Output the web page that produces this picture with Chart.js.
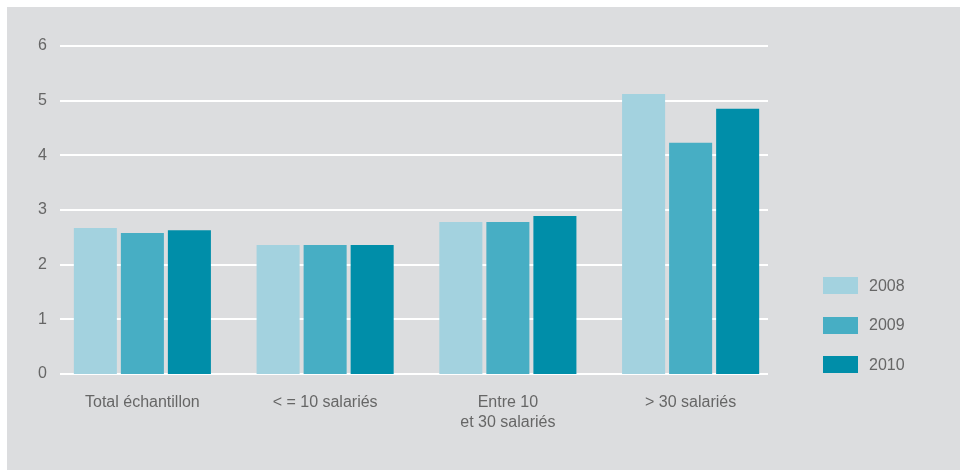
<!DOCTYPE html>
<html lang="fr">
<head>
<meta charset="utf-8">
<script src="https://cdn.jsdelivr.net/npm/chart.js@4/dist/chart.umd.min.js"></script>
<style>
  html, body { margin: 0; padding: 0; background: #ffffff; }
  body { width: 960px; height: 470px; position: relative; overflow: hidden; font-family: "Liberation Sans", Arial, sans-serif; }
  .panel { position: absolute; left: 7px; top: 7px; width: 953px; height: 463px; background: #dcdddf; }
  .panel canvas { position: absolute; left: 0; top: 0; }
  .legende { position: absolute; left: 816px; top: 270px; }
  .legende div { height: 17px; margin-bottom: 22.5px; display: flex; align-items: center; color: #666666; font-size: 16px; }
  .legende span { display: inline-block; width: 35px; height: 17px; margin-right: 11px; }
</style>
</head>
<body>
<div class="panel">
  <canvas id="graphique" width="953" height="463"></canvas>
  <div class="legende" id="legende"></div>
</div>
<script>
// Catégories d'entreprises
const categories = ['Total échantillon', '< = 10 salariés', ['Entre 10', 'et 30 salariés'], '> 30 salariés'];
const annees = ['2008', '2009', '2010'];
const couleurs = ['#a3d2df', '#47aec4', '#008ea9'];

// Valeurs par année
const valeurs2008 = [2.67, 2.36, 2.78, 5.12];
const valeurs2009 = [2.58, 2.36, 2.78, 4.23];
const valeurs2010 = [2.63, 2.36, 2.89, 4.85];

const graduations = [0, 1, 2, 3, 4, 5, 6];

// Lignes horizontales blanches, un peu en retrait du bord de la zone
const lignesBlanches = {
    id: 'lignesBlanches',
    beforeDatasetsDraw(chart) {
        const { ctx, chartArea, scales } = chart;
        ctx.save();
        ctx.strokeStyle = '#ffffff';
        ctx.lineWidth = 2;
        graduations.forEach(v => {
            const y = Math.round(scales.y.getPixelForValue(v));
            ctx.beginPath();
            ctx.moveTo(chartArea.left + 9, y);
            ctx.lineTo(chartArea.right - 14, y);
            ctx.stroke();
        });
        ctx.restore();
    }
};

const series = [valeurs2008, valeurs2009, valeurs2010];

new Chart(document.getElementById('graphique'), {
    type: 'bar',
    data: {
        labels: categories,
        datasets: annees.map((a, i) => ({
            label: a,
            data: series[i],
            backgroundColor: couleurs[i],
            borderWidth: 0,
            categoryPercentage: 0.772,
            barPercentage: 0.915
        }))
    },
    options: {
        responsive: false,
        animation: false,
        layout: { padding: { left: 0, right: 178, top: 39, bottom: 0 } },
        plugins: {
            legend: { display: false },
            tooltip: { enabled: false }
        },
        scales: {
            x: {
                grid: { display: false, drawTicks: false },
                border: { display: false },
                ticks: {
                    color: '#666666',
                    padding: 19,
                    maxRotation: 0,
                    font: { family: '"Liberation Sans", Arial, sans-serif', size: 16, lineHeight: 1.25 }
                },
                afterFit(scale) { scale.height = 96; }
            },
            y: {
                min: 0,
                max: 6,
                grid: { display: false, drawTicks: false },
                border: { display: false },
                ticks: {
                    stepSize: 1,
                    color: '#666666',
                    padding: 4,
                    font: { family: '"Liberation Sans", Arial, sans-serif', size: 16 }
                },
                afterFit(scale) { scale.width = 44; }
            }
        }
    },
    plugins: [lignesBlanches]
});

// Légende à droite
const legende = document.getElementById('legende');
annees.forEach((a, i) => {
    const ligne = document.createElement('div');
    const carre = document.createElement('span');
    carre.style.background = couleurs[i];
    ligne.appendChild(carre);
    ligne.appendChild(document.createTextNode(a));
    legende.appendChild(ligne);
});
</script>
</body>
</html>
